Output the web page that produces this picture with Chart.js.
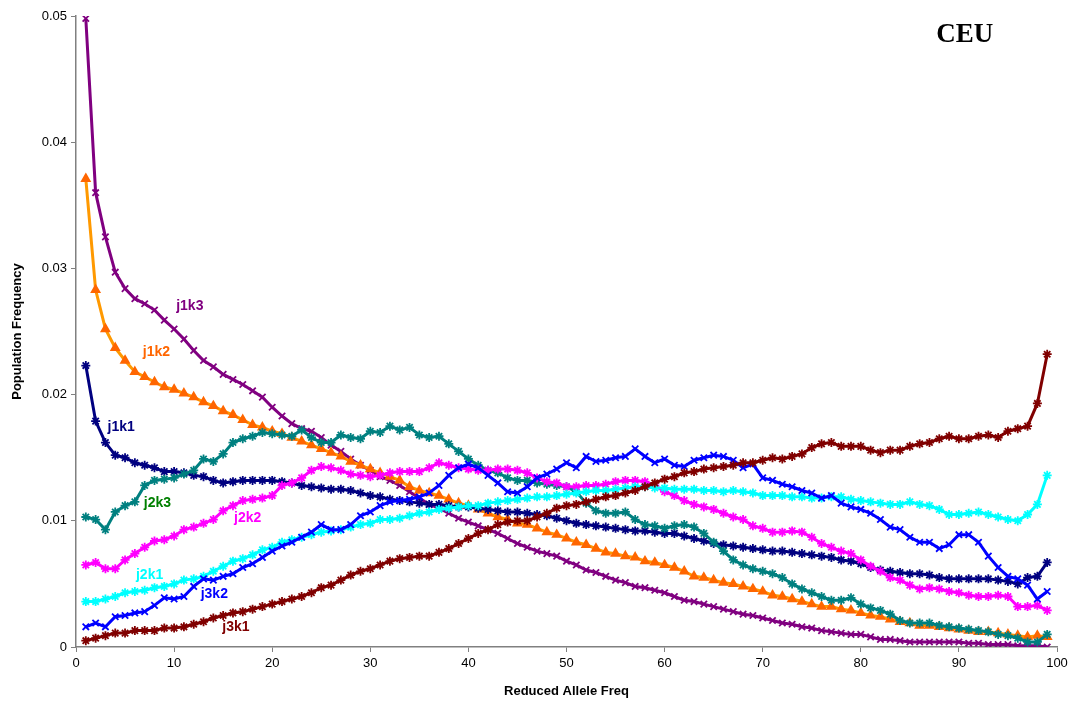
<!DOCTYPE html>
<html>
<head>
<meta charset="utf-8">
<script src="https://cdn.jsdelivr.net/npm/chart.js@4.4.1/dist/chart.umd.min.js"></script>
<style>
  html, body { margin: 0; padding: 0; background: #fff; }
  #wrap { width: 1073px; height: 710px; }
</style>
</head>
<body>
<div id="wrap"><canvas id="chart" width="1073" height="710"></canvas></div>
<script>
// reduced allele frequency bins
const freq = [1,2,3,4,5,6,7,8,9,10,11,12,13,14,15,16,17,18,19,20,21,22,23,24,25,26,27,28,29,30,
  31,32,33,34,35,36,37,38,39,40,41,42,43,44,45,46,47,48,49,50,51,52,53,54,55,56,57,58,59,60,
  61,62,63,64,65,66,67,68,69,70,71,72,73,74,75,76,77,78,79,80,81,82,83,84,85,86,87,88,89,90,
  91,92,93,94,95,96,97,98,99];

const j1k3 = [.0498,.0360,.0325,.0297,.0284,.0276,.0272,.0267,.0259,.0252,.0244,.0235,.0227,.0222,.0216,.0212,.0208,.0203,.0198,.0190,
  .0183,.0177,.0173,.0171,.0166,.0160,.0155,.0149,.0144,.0140,.0135,.0132,.0128,.0123,.0118,.0113,.0110,.0106,.0102,.0099,
  .0096,.0093,.0090,.0086,.0082,.0079,.0076,.0074,.0072,.0068,.0065,.0061,.0059,.0056,.0053,.0051,.0048,.0047,.0045,.0043,
  .0040,.0037,.0036,.0034,.0032,.0030,.0028,.0026,.0025,.0023,.0021,.0019,.0018,.0016,.0015,.0013,.0012,.0011,.0010,.0010,
  .0008,.0006,.0006,.0005,.0004,.0004,.0004,.0004,.0004,.0004,.0003,.0003,.0002,.0002,.0002,.0001,.0001,.0001,.0000];

const j1k2 = [.0371,.0283,.0252,.0237,.0227,.0218,.0214,.0210,.0206,.0204,.0201,.0198,.0194,.0191,.0187,.0184,.0180,.0176,.0174,.0171,
  .0169,.0166,.0163,.0160,.0157,.0154,.0151,.0147,.0144,.0141,.0138,.0135,.0132,.0127,.0124,.0122,.0120,.0117,.0114,.0112,
  .0109,.0106,.0103,.0101,.0098,.0097,.0094,.0091,.0089,.0086,.0083,.0081,.0078,.0075,.0074,.0072,.0071,.0068,.0067,.0065,
  .0063,.0060,.0056,.0055,.0053,.0051,.0050,.0048,.0046,.0044,.0041,.0040,.0038,.0036,.0034,.0032,.0032,.0030,.0029,.0027,
  .0025,.0024,.0022,.0020,.0019,.0017,.0017,.0016,.0015,.0014,.0013,.0012,.0012,.0011,.0010,.0009,.0008,.0009,.0008];

const j1k1 = [.0223,.0179,.0162,.0152,.0150,.0146,.0144,.0142,.0139,.0139,.0138,.0136,.0135,.0132,.0130,.0131,.0132,.0132,.0132,.0132,
  .0131,.0130,.0128,.0127,.0126,.0125,.0125,.0124,.0122,.0120,.0119,.0117,.0116,.0115,.0114,.0113,.0113,.0112,.0111,.0111,
  .0110,.0109,.0108,.0107,.0107,.0106,.0105,.0104,.0102,.0100,.0098,.0097,.0096,.0095,.0094,.0093,.0092,.0092,.0091,.0090,
  .0090,.0088,.0086,.0084,.0082,.0081,.0080,.0079,.0078,.0077,.0076,.0076,.0075,.0074,.0073,.0072,.0071,.0069,.0068,.0066,
  .0063,.0061,.0060,.0059,.0058,.0058,.0057,.0055,.0054,.0054,.0054,.0054,.0054,.0053,.0052,.0050,.0055,.0056,.0067];

const j2k3 = [.0103,.0101,.0093,.0107,.0112,.0115,.0128,.0132,.0133,.0134,.0137,.0140,.0149,.0147,.0153,.0162,.0165,.0167,.0170,.0169,
  .0168,.0167,.0172,.0166,.0162,.0162,.0168,.0166,.0165,.0171,.0170,.0175,.0172,.0174,.0168,.0166,.0167,.0161,.0155,.0149,
  .0144,.0140,.0138,.0134,.0132,.0132,.0130,.0129,.0128,.0127,.0123,.0114,.0108,.0106,.0106,.0107,.0101,.0097,.0096,.0094,
  .0096,.0097,.0095,.0090,.0083,.0076,.0069,.0065,.0062,.0060,.0058,.0055,.0050,.0046,.0043,.0040,.0037,.0037,.0039,.0034,
  .0031,.0029,.0026,.0021,.0019,.0019,.0019,.0017,.0016,.0015,.0014,.0013,.0012,.0010,.0009,.0007,.0004,.0004,.0010];

const j2k2 = [.0065,.0067,.0062,.0062,.0069,.0074,.0079,.0084,.0085,.0088,.0093,.0095,.0098,.0101,.0108,.0112,.0116,.0117,.0118,.0120,
  .0128,.0130,.0134,.0140,.0143,.0142,.0140,.0137,.0136,.0135,.0136,.0138,.0139,.0139,.0139,.0142,.0146,.0144,.0142,.0141,
  .0140,.0140,.0141,.0141,.0140,.0138,.0134,.0131,.0130,.0127,.0127,.0128,.0128,.0129,.0131,.0132,.0132,.0131,.0128,.0123,
  .0120,.0116,.0113,.0111,.0109,.0106,.0103,.0101,.0096,.0094,.0091,.0091,.0092,.0091,.0087,.0082,.0079,.0076,.0074,.0069,
  .0064,.0060,.0055,.0053,.0049,.0046,.0047,.0046,.0044,.0043,.0041,.0040,.0040,.0041,.0040,.0032,.0032,.0033,.0029];

const j2k1 = [.0036,.0036,.0038,.0040,.0043,.0044,.0045,.0047,.0048,.0050,.0053,.0054,.0056,.0060,.0064,.0068,.0070,.0073,.0077,.0079,
  .0083,.0085,.0087,.0089,.0091,.0092,.0093,.0095,.0097,.0098,.0101,.0101,.0102,.0104,.0106,.0107,.0109,.0110,.0111,.0112,
  .0112,.0114,.0115,.0116,.0117,.0118,.0119,.0119,.0120,.0121,.0122,.0123,.0124,.0124,.0125,.0126,.0127,.0127,.0126,.0126,
  .0125,.0125,.0125,.0124,.0124,.0123,.0124,.0123,.0122,.0120,.0120,.0120,.0119,.0119,.0118,.0118,.0119,.0119,.0117,.0116,
  .0115,.0114,.0113,.0113,.0115,.0113,.0112,.0109,.0105,.0105,.0106,.0107,.0105,.0103,.0101,.0100,.0105,.0113,.0136];

const j3k2 = [.0016,.0019,.0016,.0024,.0025,.0027,.0028,.0033,.0039,.0038,.0040,.0048,.0054,.0053,.0056,.0058,.0063,.0066,.0071,.0076,
  .0080,.0083,.0087,.0091,.0097,.0093,.0093,.0097,.0104,.0107,.0112,.0115,.0116,.0117,.0119,.0122,.0128,.0136,.0142,.0145,
  .0142,.0136,.0130,.0123,.0122,.0127,.0134,.0137,.0141,.0146,.0142,.0151,.0147,.0148,.0150,.0151,.0157,.0151,.0146,.0149,
  .0144,.0143,.0148,.0150,.0152,.0151,.0148,.0142,.0145,.0134,.0132,.0129,.0127,.0124,.0122,.0118,.0120,.0114,.0111,.0109,
  .0106,.0101,.0095,.0093,.0087,.0083,.0083,.0078,.0081,.0089,.0089,.0083,.0072,.0063,.0056,.0054,.0049,.0038,.0044];

const j3k1 = [.0005,.0007,.0009,.0011,.0011,.0013,.0013,.0013,.0015,.0015,.0016,.0018,.0020,.0023,.0025,.0027,.0028,.0030,.0032,.0034,
  .0036,.0038,.0040,.0043,.0047,.0049,.0053,.0057,.0060,.0062,.0065,.0068,.0070,.0071,.0072,.0072,.0075,.0078,.0082,.0086,
  .0090,.0093,.0097,.0099,.0100,.0100,.0103,.0106,.0110,.0112,.0113,.0115,.0117,.0119,.0120,.0122,.0124,.0127,.0130,.0133,
  .0135,.0138,.0139,.0141,.0142,.0143,.0144,.0146,.0146,.0148,.0150,.0149,.0151,.0153,.0158,.0161,.0162,.0159,.0159,.0159,
  .0156,.0154,.0156,.0156,.0159,.0161,.0162,.0165,.0167,.0165,.0165,.0167,.0168,.0166,.0171,.0173,.0175,.0193,.0232];

const xTicks = [0,10,20,30,40,50,60,70,80,90,100];
const yTicks = [0,0.01,0.02,0.03,0.04,0.05];

// series in drawing order: name, values, line colour, marker colour, marker, label position (x, y), label colour
const series = [
  ["j3k1", j3k1, "#800000", "#800000", "star",     16.3, 0.0016, "#800000"],
  ["j3k2", j3k2, "#0000FF", "#0000FF", "crossRot", 14.1, 0.0042, "#0000FF"],
  ["j2k1", j2k1, "#00FFFF", "#00FFFF", "star",      7.5, 0.0057, "#00FFFF"],
  ["j2k2", j2k2, "#FF00FF", "#FF00FF", "star",     17.5, 0.0102, "#FF00FF"],
  ["j2k3", j2k3, "#008080", "#008080", "star",      8.3, 0.0114, "#008000"],
  ["j1k1", j1k1, "#000080", "#000080", "star",      4.6, 0.0174, "#000080"],
  ["j1k2", j1k2, "#FF9900", "#FF6600", "triangle",  8.2, 0.0234, "#FF6600"],
  ["j1k3", j1k3, "#800080", "#800080", "crossRot", 11.6, 0.0270, "#800080"]
];

const datasets = series.map(s => ({
  label: s[0],
  data: freq.map((x, i) => ({x: x, y: s[1][i]})),
  borderColor: s[2],
  borderWidth: 3,
  pointStyle: s[4],
  pointRadius: s[4] === "triangle" ? 4.5 : 4.5,
  pointBorderColor: s[3],
  pointBackgroundColor: s[3],
  pointBorderWidth: 1.8,
  tension: 0
}));

const seriesLabels = {
  id: "seriesLabels",
  afterDatasetsDraw(chart) {
    const ctx = chart.ctx;
    const xs = chart.scales.x, ys = chart.scales.y;
    ctx.save();
    ctx.font = "bold 14px 'Liberation Sans', Arial, sans-serif";
    ctx.textAlign = "center";
    ctx.textBaseline = "middle";
    series.forEach(s => {
      ctx.fillStyle = s[7];
      ctx.fillText(s[0], xs.getPixelForValue(s[5]), ys.getPixelForValue(s[6]));
    });
    // population name
    ctx.fillStyle = "#000";
    ctx.font = "bold 27px 'Liberation Serif', 'Times New Roman', serif";
    ctx.fillText("CEU", xs.getPixelForValue(90.6), ys.getPixelForValue(0.0485));
    ctx.restore();
  }
};

new Chart(document.getElementById("chart"), {
  type: "line",
  data: { datasets: datasets },
  options: {
    responsive: false,
    animation: false,
    devicePixelRatio: 1,
    layout: { padding: { top: 16, right: 16, left: 0, bottom: 0 } },
    plugins: { legend: { display: false }, tooltip: { enabled: false } },
    scales: {
      x: {
        type: "linear",
        min: 0, max: 100,
        afterBuildTicks: sc => { sc.ticks = xTicks.map(v => ({value: v})); },
        afterFit: sc => { sc.height = 63; },
        grid: { drawOnChartArea: false, drawTicks: true, tickLength: 5, color: "#808080" },
        border: { color: "#808080", width: 1.5 },
        ticks: { color: "#000", padding: 4, maxRotation: 0, font: { family: "'Liberation Sans', Arial", size: 13 } },
        title: { display: true, text: "Reduced Allele Freq", color: "#000",
                 font: { family: "'Liberation Sans', Arial", size: 13, weight: "bold" },
                 padding: { top: 4, bottom: 11 } }
      },
      y: {
        min: 0, max: 0.05,
        afterBuildTicks: sc => { sc.ticks = yTicks.map(v => ({value: v})); },
        afterFit: sc => { sc.width = 76; },
        grid: { drawOnChartArea: false, drawTicks: true, tickLength: 5, color: "#808080" },
        border: { color: "#808080", width: 1.5 },
        ticks: { color: "#000", padding: 4, font: { family: "'Liberation Sans', Arial", size: 13 },
                 callback: v => v === 0 ? "0" : v.toFixed(2) },
        title: { display: true, text: "Population Frequency", color: "#000",
                 font: { family: "'Liberation Sans', Arial", size: 13, weight: "bold" },
                 padding: { top: 10, bottom: 4 } }
      }
    }
  },
  plugins: [seriesLabels]
});
</script>
</body>
</html>
